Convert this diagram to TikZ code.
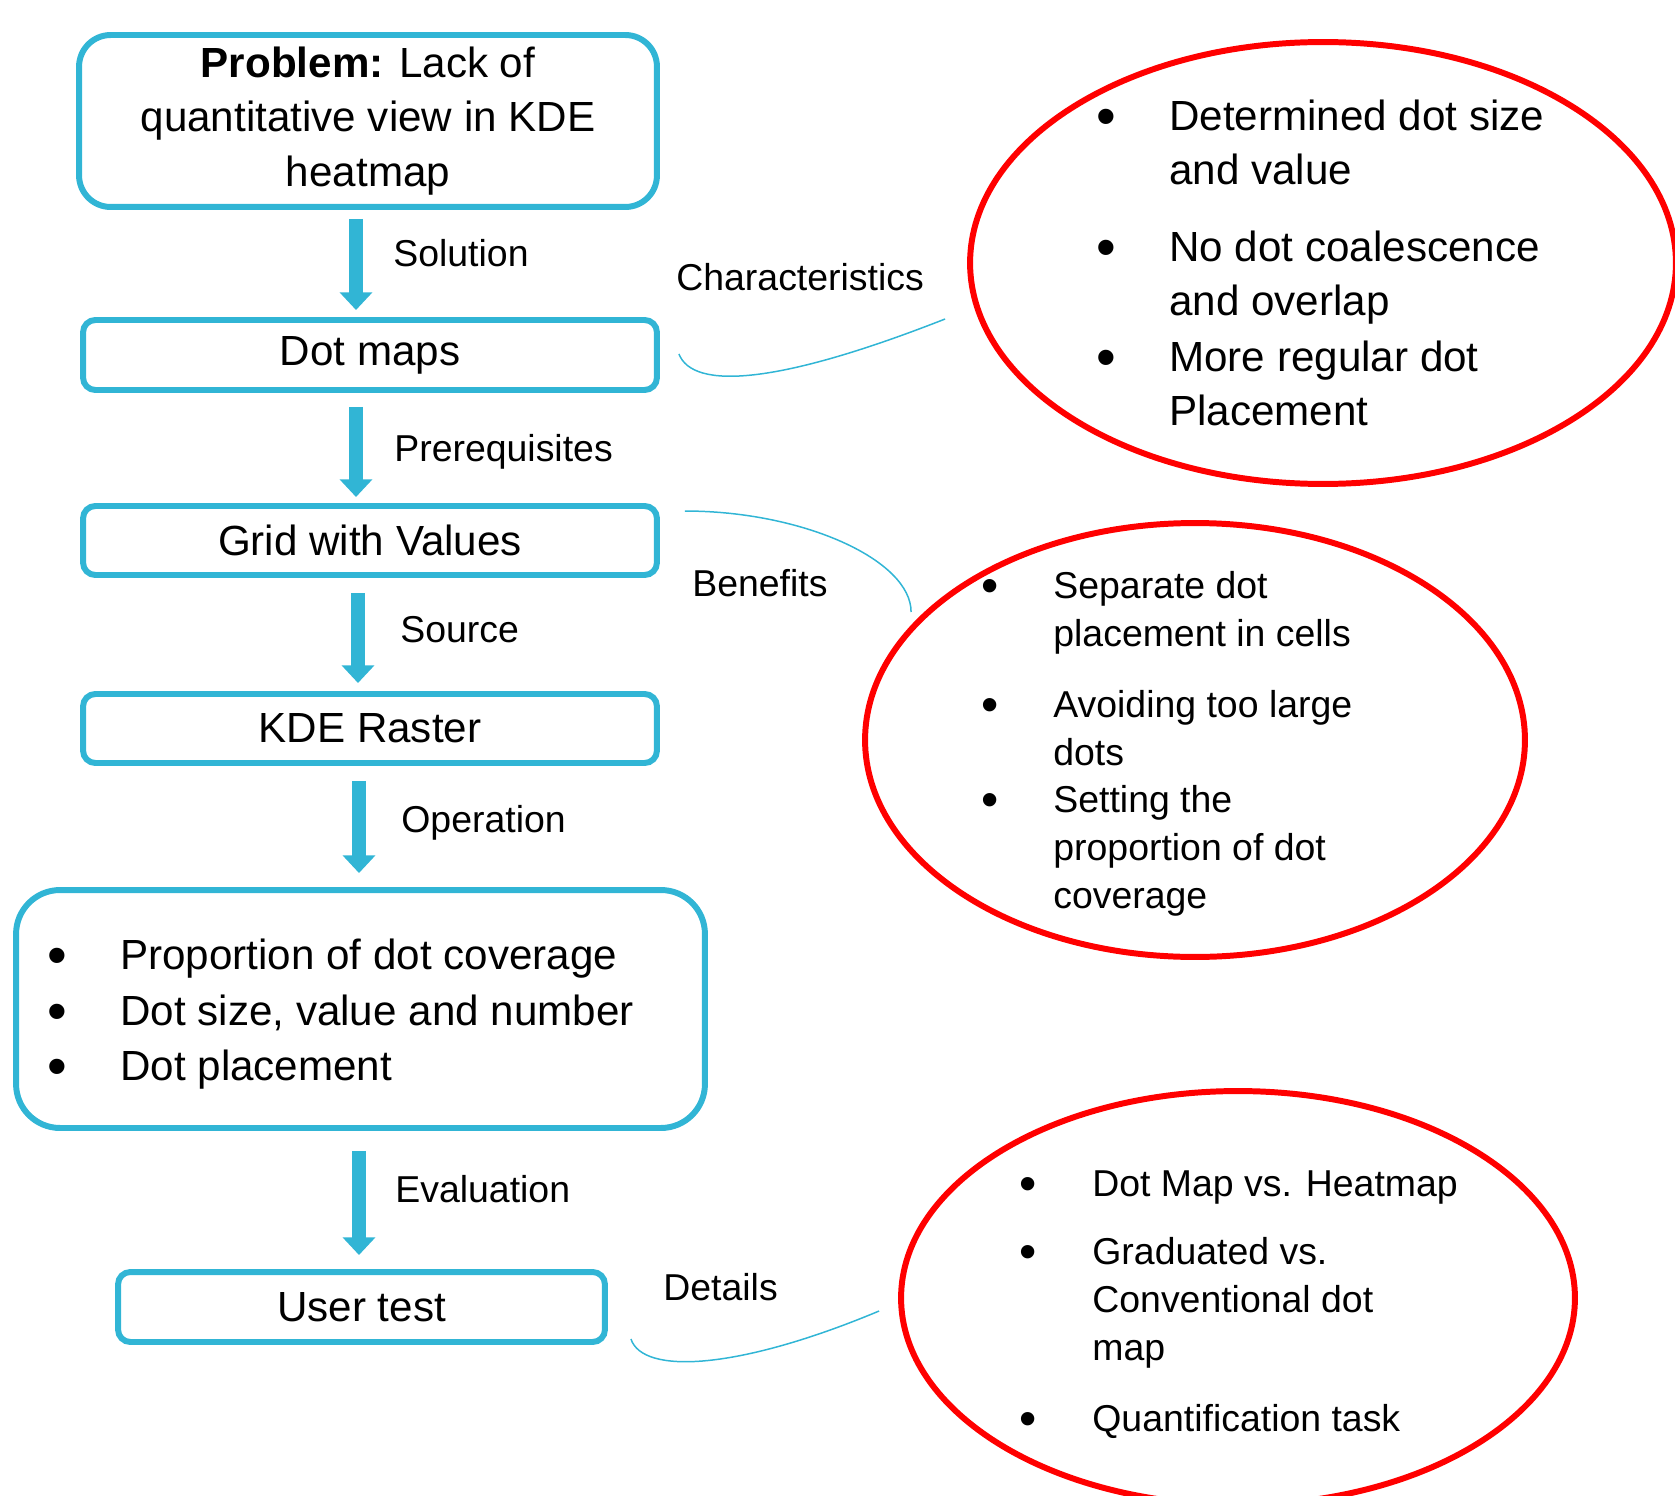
\documentclass[tikz,border=0pt]{standalone}
\usepackage{fontspec}
\setmainfont{Liberation Sans}
\usetikzlibrary{arrows.meta,shapes.geometric,calc}
\definecolor{flowblue}{RGB}{49,181,213}
\newcommand{\bigtxt}{\fontsize{24}{31}\selectfont}
\newcommand{\smalltxt}{\fontsize{21.3}{27.2}\selectfont}

\begin{document}
\begin{tikzpicture}[x=0.02cm, y=-0.02cm,
    box/.style={draw=flowblue, line width=3.4pt, rounded corners=7pt, align=center, font=\bigtxt, inner sep=0pt},
    flow/.style={draw=flowblue, line width=8.5pt, -{Triangle[width=18pt,length=10pt]}},
    tag/.style={anchor=base west, font=\smalltxt, inner sep=0pt},
    blob/.style={ellipse, draw=red, line width=3.4pt, inner sep=0pt},
    link/.style={draw=flowblue, line width=0.85pt},
    bigitem/.style={anchor=base west, align=left, font=\bigtxt, inner sep=0pt},
    smallitem/.style={anchor=base west, align=left, font=\smalltxt, inner sep=0pt},
    bigdot/.style={anchor=base, font=\fontsize{32}{32}\selectfont, inner sep=0pt, yshift=-3.2pt},
    smalldot/.style={anchor=base, font=\fontsize{28}{28}\selectfont, inner sep=0pt, yshift=-2.8pt}]
    \useasboundingbox (0,0) rectangle (1675,1496);

    \node[box, rounded corners=18pt, minimum width=11.56cm, minimum height=3.44cm] (problem) at (368,121)
        {\textbf{Problem:} Lack of\\quantitative view in KDE\\heatmap};
    \node[box, minimum width=11.48cm, minimum height=1.4cm] (dotmaps) at (370,355) {Dot maps};
    \node[box, minimum width=11.48cm, minimum height=1.38cm] (gridvals) at (370,540.5) {Grid with Values};
    \node[box, minimum width=11.48cm, minimum height=1.38cm] (kderaster) at (370,728.5) {KDE Raster};
    \node[box, rounded corners=25pt, minimum width=13.78cm, minimum height=4.76cm] (ops) at (360.5,1009) {};
    \node[box, minimum width=9.74cm, minimum height=1.4cm] (usertest) at (361.5,1307) {User test};

    \draw[flow] ($(problem.south)+(-12,9)$) -- ($(dotmaps.north)+(-14,-7)$);
    \draw[flow] ($(dotmaps.south)+(-14,14)$) -- ($(gridvals.north)+(-14,-6)$);
    \draw[flow] ($(gridvals.south)+(-12,15)$) -- ($(kderaster.north)+(-12,-8)$);
    \draw[flow] ($(kderaster.south)+(-11,15)$) -- ($(ops.north)+(-1.5,-14)$);
    \draw[flow] ($(ops.south)+(-1.5,20)$) -- ($(usertest.north)+(-2.5,-14)$);

    \node[tag] (lsol) at (393,267) {Solution};
    \node[tag] (lpre) at (394,461) {Prerequisites};
    \node[tag] (lsrc) at (400,642) {Source};
    \node[tag] (lop) at (401,832) {Operation};
    \node[tag] (leval) at (395,1202) {Evaluation};
    \node[tag] (lchar) at (676,291) {Characteristics};
    \node[tag] (lben) at (692,596) {Benefits};
    \node[tag] (ldet) at (663,1300) {Details};

    \node[bigdot] (ob1) at (57,969) {\textbullet};
    \node[bigdot] (ob2) at (57,1025) {\textbullet};
    \node[bigdot] (ob3) at (57,1080) {\textbullet};
    \node[bigitem] (op1) at (120,969) {Proportion of dot coverage};
    \node[bigitem] (op2) at (120,1025) {Dot size, value and number};
    \node[bigitem] (op3) at (120,1080) {Dot placement};

    \node[blob, minimum width=14.12cm, minimum height=8.84cm] (charell) at (1323,263) {};
    \node[blob, minimum width=13.2cm, minimum height=8.68cm] (benell) at (1195,740) {};
    \node[blob, minimum width=13.48cm, minimum height=8.28cm] (detell) at (1238,1298) {};

    \node[bigdot] (cb1) at (1106,130) {\textbullet};
    \node[bigdot] (cb2) at (1106,261) {\textbullet};
    \node[bigdot] (cb3) at (1106,371) {\textbullet};
    \node[bigitem] (c1) at (1169,184.7) {Determined dot size\\and value};
    \node[bigitem] (c2) at (1169,315.7) {No dot coalescence\\and overlap};
    \node[bigitem] (c3) at (1169,425.7) {More regular dot\\Placement};

    \node[smalldot] (bb1) at (990,598) {\textbullet};
    \node[smalldot] (bb2) at (990,717) {\textbullet};
    \node[smalldot] (bb3) at (990,812) {\textbullet};
    \node[smallitem] (b1) at (1053,646) {Separate dot\\placement in cells};
    \node[smallitem] (b2) at (1053,765) {Avoiding too large\\dots};
    \node[smallitem] (b3) at (1053,908) {Setting the\\proportion of dot\\coverage};

    \node[smalldot] (db1) at (1028,1196) {\textbullet};
    \node[smalldot] (db2) at (1028,1264) {\textbullet};
    \node[smalldot] (db3) at (1028,1431) {\textbullet};
    \node[smallitem] (d1) at (1092,1196) {Dot Map vs. Heatmap};
    \node[smallitem] (d2) at (1092,1360) {Graduated vs.\\Conventional dot\\map};
    \node[smallitem] (d3) at (1092,1431) {Quantification task};

    \draw[link] ($(dotmaps.east)+(19,-1)$) .. controls +(14,36) and +(-168,66) .. ($(charell.west)+(-22,56)$);
    \draw[link] ($(gridvals.north east)+(25,8)$) .. controls +(118,0) and +(0,-52) .. ($(benell.west)+(49,-128)$);
    \draw[link] ($(usertest.east)+(23,32)$) .. controls +(12,36) and +(-141,59) .. ($(detell.west)+(-19,13)$);
\end{tikzpicture}
\end{document}
